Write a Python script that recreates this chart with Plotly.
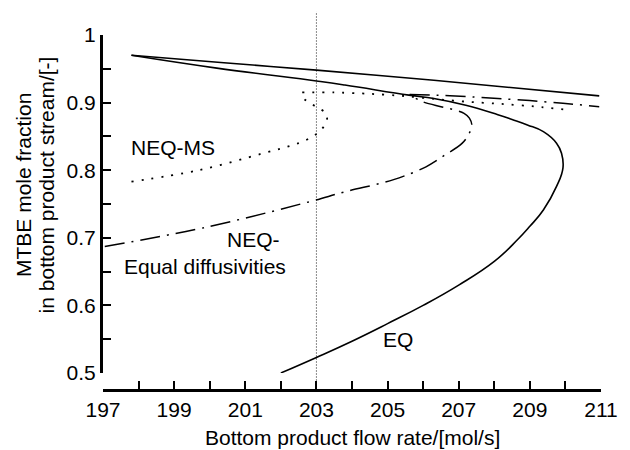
import plotly.graph_objects as go

# Equilibrium model (EQ): lower branch from the bottom up to the turning point at low flow
eq_lower_flow = [202.0, 203.0, 204.0, 205.0, 206.0, 207.0, 208.0, 208.65, 209.0, 209.38,
                 209.75, 209.93, 209.89, 209.75, 209.38, 208.93, 208.5, 208.1, 207.2, 206.3,
                 205.6, 203.8, 203.0, 200.2, 197.8]
eq_lower_x = [0.500, 0.523, 0.547, 0.573, 0.600, 0.630, 0.665, 0.697, 0.717, 0.741,
              0.776, 0.803, 0.825, 0.840, 0.857, 0.867, 0.875, 0.882, 0.896, 0.906,
              0.911, 0.926, 0.932, 0.951, 0.970]
# EQ upper (high-purity) branch
eq_upper_flow = [197.8, 200.4, 203.0, 206.3, 210.95]
eq_upper_x = [0.970, 0.959, 0.948, 0.933, 0.910]

# Nonequilibrium, Maxwell-Stefan
ms_lower_flow = [197.8, 199.7, 201.5, 202.5, 202.9, 203.1, 203.25, 203.3, 203.25, 203.05,
                 202.83, 202.65, 202.6]
ms_lower_x = [0.783, 0.800, 0.825, 0.840, 0.850, 0.858, 0.868, 0.877, 0.885, 0.892,
              0.899, 0.906, 0.915]
ms_upper_flow = [202.6, 203.5, 204.5, 205.4, 206.4, 207.3, 208.2, 209.2, 210.1]
ms_upper_x = [0.915, 0.915, 0.913, 0.910, 0.905, 0.901, 0.898, 0.894, 0.889]

# Nonequilibrium, equal diffusivities
ed_lower_flow = [197.05, 199.85, 202.78, 203.8, 205.17, 206.08, 206.6, 207.1, 207.3, 207.37,
                 207.3, 207.15, 206.9, 206.5, 205.95, 205.62]
ed_lower_x = [0.687, 0.715, 0.753, 0.768, 0.786, 0.805, 0.822, 0.840, 0.855, 0.866,
              0.877, 0.884, 0.889, 0.894, 0.902, 0.912]
ed_upper_flow = [205.62, 206.3, 207.2, 208.1, 209.0, 209.93, 210.95]
ed_upper_x = [0.912, 0.911, 0.909, 0.906, 0.903, 0.899, 0.894]

operating_flow = 203.0

x_tick_vals = list(range(197, 212))
x_tick_text = [str(v) if (v - 197) % 2 == 0 else "" for v in x_tick_vals]
y_tick_vals = [0.5, 0.55, 0.6, 0.65, 0.7, 0.75, 0.8, 0.85, 0.9, 0.95, 1.0]
y_tick_text = ["0.5", "", "0.6", "", "0.7", "", "0.8", "", "0.9", "", "1"]

FONT = "Liberation Sans, Arial, Helvetica, sans-serif"

fig = go.Figure()

solid = dict(color="black", width=1.6)
dotted = dict(color="black", width=1.8, dash="2px,8px")
dashdot = dict(color="black", width=1.5, dash="20px,7px,2px,7px")

fig.add_trace(go.Scatter(x=eq_lower_flow, y=eq_lower_x, mode="lines",
                         line=dict(**solid, shape="spline", smoothing=1.3)))
fig.add_trace(go.Scatter(x=eq_upper_flow, y=eq_upper_x, mode="lines",
                         line=dict(**solid, shape="spline", smoothing=0.6)))
fig.add_trace(go.Scatter(x=ms_lower_flow, y=ms_lower_x, mode="lines",
                         line=dict(**dotted, shape="spline", smoothing=1.0)))
fig.add_trace(go.Scatter(x=ms_upper_flow, y=ms_upper_x, mode="lines",
                         line=dict(**dotted, shape="spline", smoothing=0.6)))
fig.add_trace(go.Scatter(x=ed_lower_flow, y=ed_lower_x, mode="lines",
                         line=dict(**dashdot, shape="spline", smoothing=1.0)))
fig.add_trace(go.Scatter(x=ed_upper_flow, y=ed_upper_x, mode="lines",
                         line=dict(**dashdot, shape="spline", smoothing=0.6)))

# operating point marker line
fig.add_shape(type="line", xref="x", yref="paper",
              x0=operating_flow, x1=operating_flow, y0=0, y1=1.065,
              line=dict(color="#8c8c8c", width=1, dash="2px,1px"), layer="below")

label_font = dict(family=FONT, size=21, color="black")
fig.add_annotation(x=198.98, y=0.833, text="NEQ-MS", showarrow=False, font=label_font)
fig.add_annotation(x=201.24, y=0.697, text="NEQ-", showarrow=False, font=label_font)
fig.add_annotation(x=199.86, y=0.658, text="Equal diffusivities", showarrow=False, font=label_font)
fig.add_annotation(x=205.28, y=0.549, text="EQ", showarrow=False, font=label_font)

# axis titles
fig.add_annotation(xref="paper", yref="paper", x=0.5, y=-0.135,
                   text="Bottom product flow rate/[mol/s]", showarrow=False,
                   font=label_font, xanchor="center", yanchor="middle")
fig.add_annotation(xref="paper", yref="paper", x=-0.161, y=0.577, textangle=-90,
                   text="MTBE mole fraction", showarrow=False, font=label_font,
                   xanchor="center", yanchor="middle")
fig.add_annotation(xref="paper", yref="paper", x=-0.114, y=0.577, textangle=-90,
                   text="in bottom product stream/[-]", showarrow=False, font=label_font,
                   xanchor="center", yanchor="middle")

fig.update_layout(
    width=630, height=450,
    margin=dict(l=103, r=18, t=35, b=60),
    paper_bgcolor="white", plot_bgcolor="white",
    showlegend=False,
    xaxis=dict(range=[197, 211], anchor="free", position=0,
               tickvals=x_tick_vals, ticktext=x_tick_text,
               ticks="inside", ticklen=8, tickwidth=2, tickcolor="black",
               showline=True, linewidth=3, linecolor="black",
               showgrid=False, zeroline=False,
               tickfont=dict(family=FONT, size=21, color="black")),
    yaxis=dict(range=[0.5, 1.0], domain=[0.048, 1],
               tickvals=y_tick_vals, ticktext=y_tick_text,
               ticks="inside", ticklen=8, tickwidth=2, tickcolor="black",
               showline=True, linewidth=3, linecolor="black",
               showgrid=False, zeroline=False,
               tickfont=dict(family=FONT, size=21, color="black")),
)

fig.write_html("out.html")
